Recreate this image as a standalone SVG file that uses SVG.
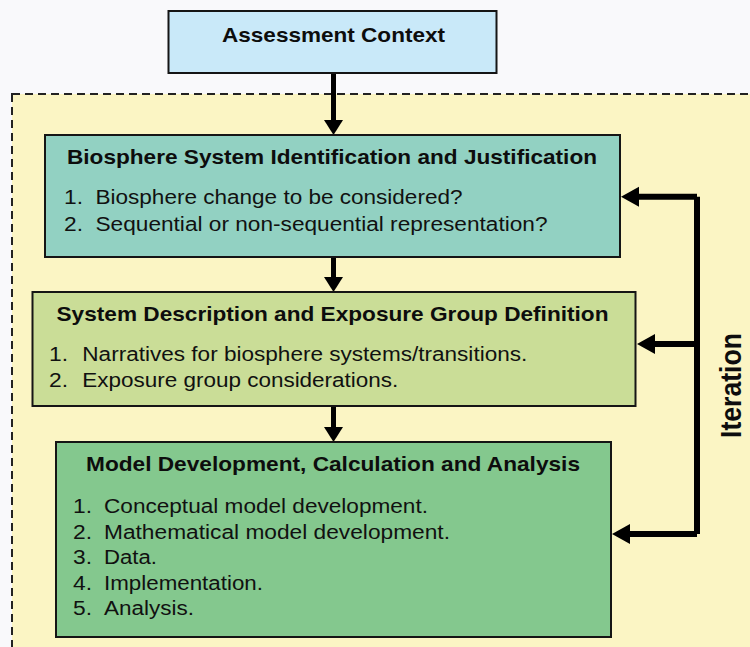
<svg xmlns="http://www.w3.org/2000/svg" width="750" height="647" viewBox="0 0 750 647">
  <style>
    .box { stroke: #151515; stroke-width: 2; }
    .title { font-family: "Liberation Sans", Arial, sans-serif; font-weight: bold; font-size: 20.5px; fill: #0d0d0d; }
    .item { font-family: "Liberation Sans", Arial, sans-serif; font-size: 19.5px; fill: #111; }
    .conn { stroke: #000; fill: none; stroke-linejoin: round; }
  </style>
  <defs>
    <marker id="head" markerUnits="userSpaceOnUse" markerWidth="20" markerHeight="21" refX="0" refY="10" orient="auto" viewBox="0 0 20 20">
      <path d="M0,0 L18,10 L0,20 Z" fill="#000"/>
    </marker>
    <marker id="headS" markerUnits="userSpaceOnUse" markerWidth="20" markerHeight="20" refX="0" refY="9.5" orient="auto" viewBox="0 0 20 19">
      <path d="M0,0 L15,9.5 L0,19 Z" fill="#000"/>
    </marker>
  </defs>

  <rect x="0" y="0" width="750" height="647" fill="#f9f9fb"/>
  <g id="iteration-region">
    <rect x="12" y="94" width="760" height="570" fill="#fbf5c4" stroke="#222" stroke-width="2" stroke-dasharray="8,5"/>
  </g>

  <g id="connectors">
    <line class="conn" x1="333.5" y1="73" x2="333.5" y2="120" stroke-width="5" marker-end="url(#headS)"/>
    <line class="conn" x1="333.5" y1="257" x2="333.5" y2="277" stroke-width="5" marker-end="url(#headS)"/>
    <line class="conn" x1="333.5" y1="406" x2="333.5" y2="427" stroke-width="5" marker-end="url(#headS)"/>
    <path class="conn" d="M697,196.7 L697,534" stroke-width="6"/>
    <path class="conn" d="M697,196.7 L639,196.7" stroke-width="6" marker-end="url(#head)"/>
    <path class="conn" d="M697,344 L655,344" stroke-width="6" marker-end="url(#head)"/>
    <path class="conn" d="M697,534 L630,534" stroke-width="6" marker-end="url(#head)"/>
  </g>

  <g id="assessment-context">
    <rect class="box" x="168.5" y="11" width="328" height="62" fill="#c9e9f9"/>
    <text class="title" x="333.5" y="42" text-anchor="middle" textLength="223" lengthAdjust="spacingAndGlyphs">Assessment Context</text>
  </g>

  <g id="biosphere-system">
    <rect class="box" x="45" y="135" width="575" height="122" fill="#92d1c2"/>
    <text class="title" x="332" y="163.5" text-anchor="middle" textLength="530" lengthAdjust="spacingAndGlyphs">Biosphere System Identification and Justification</text>
    <text class="item" x="64" y="204" textLength="19" lengthAdjust="spacingAndGlyphs">1.</text>
    <text class="item" x="95.5" y="204" textLength="367" lengthAdjust="spacingAndGlyphs">Biosphere change to be considered?</text>
    <text class="item" x="64" y="231" textLength="19" lengthAdjust="spacingAndGlyphs">2.</text>
    <text class="item" x="95.5" y="231" textLength="452" lengthAdjust="spacingAndGlyphs">Sequential or non-sequential representation?</text>
  </g>

  <g id="system-description">
    <rect class="box" x="32.5" y="292" width="603" height="114" fill="#cadd97"/>
    <text class="title" x="332.5" y="320.5" text-anchor="middle" textLength="552" lengthAdjust="spacingAndGlyphs">System Description and Exposure Group Definition</text>
    <text class="item" x="49" y="361" textLength="19" lengthAdjust="spacingAndGlyphs">1.</text>
    <text class="item" x="82.3" y="361" textLength="445" lengthAdjust="spacingAndGlyphs">Narratives for biosphere systems/transitions.</text>
    <text class="item" x="49" y="386.5" textLength="19" lengthAdjust="spacingAndGlyphs">2.</text>
    <text class="item" x="82.3" y="386.5" textLength="316" lengthAdjust="spacingAndGlyphs">Exposure group considerations.</text>
  </g>

  <g id="model-development">
    <rect class="box" x="56" y="442" width="555" height="195" fill="#84c88e"/>
    <text class="title" x="333" y="470.7" text-anchor="middle" textLength="494" lengthAdjust="spacingAndGlyphs">Model Development, Calculation and Analysis</text>
    <text class="item" x="73" y="512.5" textLength="19" lengthAdjust="spacingAndGlyphs">1.</text>
    <text class="item" x="104" y="512.5" textLength="324" lengthAdjust="spacingAndGlyphs">Conceptual model development.</text>
    <text class="item" x="73" y="538.5" textLength="19" lengthAdjust="spacingAndGlyphs">2.</text>
    <text class="item" x="104" y="538.5" textLength="346" lengthAdjust="spacingAndGlyphs">Mathematical model development.</text>
    <text class="item" x="73" y="564" textLength="19" lengthAdjust="spacingAndGlyphs">3.</text>
    <text class="item" x="104" y="564" textLength="53" lengthAdjust="spacingAndGlyphs">Data.</text>
    <text class="item" x="73" y="589.5" textLength="19" lengthAdjust="spacingAndGlyphs">4.</text>
    <text class="item" x="104" y="589.5" textLength="159" lengthAdjust="spacingAndGlyphs">Implementation.</text>
    <text class="item" x="73" y="615" textLength="19" lengthAdjust="spacingAndGlyphs">5.</text>
    <text class="item" x="104" y="615" textLength="90" lengthAdjust="spacingAndGlyphs">Analysis.</text>
  </g>

  <g id="iteration-label">
    <text class="title" transform="translate(740.5,385.5) rotate(-90)" x="0" y="0" text-anchor="middle" style="font-size:29px" textLength="105" lengthAdjust="spacingAndGlyphs">Iteration</text>
  </g>
</svg>
